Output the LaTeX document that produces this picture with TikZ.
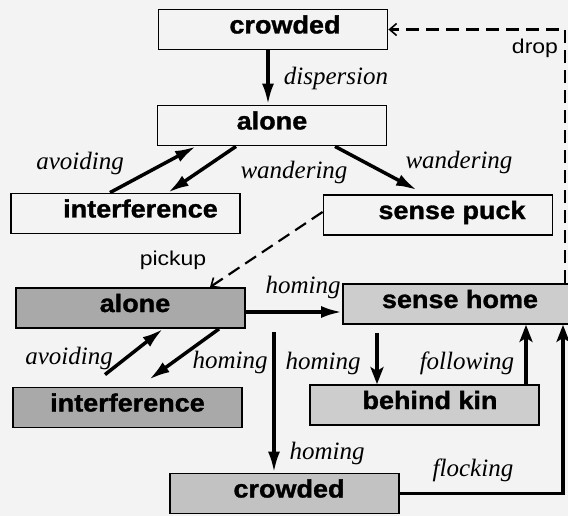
\documentclass[tikz,border=0pt]{standalone}
\usepackage{fontspec}
\setmainfont{Liberation Serif}
\setsansfont{Liberation Sans}
\newfontfamily\statefont{Liberation Sans}[FakeStretch=1.08, FakeBold=1.2]
\newfontfamily\tagfont{Liberation Sans}[FakeStretch=1.15]
\usetikzlibrary{arrows.meta,calc}
\definecolor{paper}{HTML}{F3F3F3}
\definecolor{darkfill}{HTML}{A9A9A9}
\definecolor{midfill}{HTML}{C2C2C2}
\definecolor{lightfill}{HTML}{CDCDCD}
% box text set off-centre by the given amount
\newcommand\offtext[2]{\hspace*{#1}#2}
\begin{document}
\begin{tikzpicture}[x=1pt,y=-1pt,
  state/.style={draw=black, line width=1.8pt, minimum width=229pt, minimum height=40pt,
    inner sep=0pt, text height=18pt, text depth=10pt,
    font=\statefont\bfseries\fontsize{25}{25}\selectfont},
  lab/.style={inner sep=0pt, font=\itshape\fontsize{25}{25}\selectfont},
  small/.style={inner sep=0pt, font=\tagfont\fontsize{20}{20}\selectfont},
  arr/.style={line width=3.5pt, -{Latex[length=21pt,width=12pt]}},
  arrv/.style={line width=3.5pt, -{Stealth[length=17pt,width=13pt,inset=4pt]}},
  dashline/.style={line width=2.2pt, dash pattern=on 13pt off 7pt,
    -{Straight Barb[length=7pt,width=12pt,line width=1.6pt]}}]
\useasboundingbox[fill=paper] (0,0) rectangle (568,516);

% upper machine
\node[state, fill=paper] (c1) at (273,29.5) {\offtext{24pt}{crowded}};
\node[state, fill=paper] (a1) at (272,125.5) {alone};
\node[state, fill=paper] (i1) at (125.5,213.5) {\offtext{30pt}{interference}};
\node[state, fill=paper] (p1) at (438,215) {\offtext{28pt}{sense puck}};

% lower machine
\node[state, fill=darkfill] (a2) at (130.5,308) {\offtext{9pt}{alone}};
\node[state, fill=lightfill] (h2) at (457.5,304) {\offtext{5pt}{sense home}};
\node[state, fill=darkfill] (i2) at (127.5,407.5) {interference};
\node[state, fill=lightfill] (k2) at (424.5,405) {\offtext{11pt}{behind kin}};
\node[state, fill=midfill] (c2) at (284.5,493.5) {\offtext{9pt}{crowded}};

% upper transitions
\draw[arr] ([xshift=-5pt]c1.south) -- ([xshift=-4pt]a1.north);
\node[lab] (ldisp) at (336,78) {dispersion};
\draw[arr] ([xshift=-15.5pt]i1.north) -- ([xshift=-76pt]a1.south);
\node[lab] (lav1) at (80,163) {avoiding};
\draw[arr] ([xshift=-36pt]a1.south) -- ([xshift=42.5pt]i1.north);
\node[lab] (lwa1) at (294,172) {wandering};
\draw[arr] ([xshift=63pt]a1.south) -- ([xshift=-21pt,yshift=4pt]p1.north);
\node[lab] (lwa2) at (459,162) {wandering};

% switching between the two machines
\draw[dashline] ([yshift=3pt]p1.west) -- ([xshift=79.5pt]a2.north);
\node[small] (lpick) at (173,260) {pickup};
\draw[dashline] ([xshift=107.5pt]h2.north) |- (c1.east);
\node[small] (ldrop) at (535,48) {drop};

% lower transitions
\draw[arr] ([yshift=-4pt]a2.east) -- ([yshift=-4pt]a2.east -| h2.west);
\node[lab] (lhom1) at (303,287) {homing};
\draw[arr] ([xshift=-22.5pt,yshift=12pt]i2.north) -- ([xshift=32.5pt]a2.south);
\node[lab] (lav2) at (69,358) {avoiding};
\draw[arr] ([xshift=88.5pt]a2.south) -- ([xshift=21.5pt,yshift=7pt]i2.north);
\node[lab] (lhom2) at (230,362) {homing};
\coordinate (vtop) at (274,332);
\draw[arr] (vtop) -- (vtop |- c2.north);
\node[lab] (lhom3) at (327,453) {homing};
\draw[arrv] ([xshift=-80.5pt,yshift=-8pt]h2.south) -- ([xshift=-47.5pt]k2.north);
\node[lab] (lhom4) at (323,363) {homing};
\draw[arrv] ([xshift=101.5pt]k2.north) -- ([xshift=101.5pt]k2.north |- h2.south);
\node[lab] (lfol) at (467,363) {following};
\draw[arrv] (c2.east) -| ([xshift=105.5pt]h2.south);
\node[lab] (lflo) at (473,470) {flocking};
\end{tikzpicture}
\end{document}
